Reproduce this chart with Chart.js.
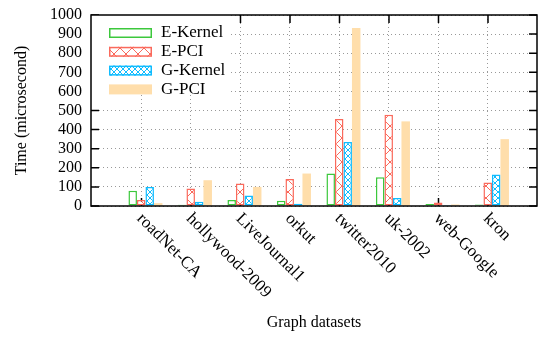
<!DOCTYPE html>
<html>
<head>
<meta charset="utf-8">
<script src="https://cdn.jsdelivr.net/npm/chart.js@4/dist/chart.umd.min.js"></script>
<style>
  html, body { margin: 0; padding: 0; background: #fff; }
</style>
</head>
<body>
<canvas id="myChart" width="547" height="339"></canvas>
<script>
var categories = ['roadNet-CA', 'hollywood-2009', 'LiveJournal1', 'orkut', 'twitter2010', 'uk-2002', 'web-Google', 'kron'];
var seriesNames = ['E-Kernel', 'E-PCI', 'G-Kernel', 'G-PCI'];
var eKernel = [80, 6, 32, 27, 170, 150, 10, 8];
var ePci = [32, 92, 118, 142, 455, 478, 18, 123];
var gKernel = [100, 22, 55, 12, 335, 42, 5, 165];
var gPci = [15, 135, 100, 170, 932, 443, 8, 350];
var yTicks = [0, 100, 200, 300, 400, 500, 600, 700, 800, 900, 1000];

var serif = '"Liberation Serif", "Times New Roman", serif';
var TICK_SHIFT = -0.08; // gnuplot puts the tic a bit left of the cluster centre

Chart.defaults.font.family = serif;
Chart.defaults.color = '#000';

// crosshatch fill, white behind so bars stay opaque
function hatch(color, size) {
    var c = document.createElement('canvas');
    c.width = size;
    c.height = size;
    var g = c.getContext('2d');
    g.fillStyle = '#fff';
    g.fillRect(0, 0, size, size);
    g.strokeStyle = color;
    g.lineWidth = 1;
    g.beginPath();
    g.moveTo(0, 0); g.lineTo(size, size);
    g.moveTo(size, 0); g.lineTo(0, size);
    g.stroke();
    return g.createPattern(c, 'repeat');
}

function toPoints(arr) {
    return arr.map(function (v, i) { return { x: i, y: v }; });
}

var green = '#3cc83c', red = '#fa6a5c', blue = '#10bcff', orange = '#ffdeab';

var data = {
    datasets: [
        { label: seriesNames[0], data: toPoints(eKernel), backgroundColor: '#fff', borderColor: green, borderWidth: 1.5 },
        { label: seriesNames[1], data: toPoints(ePci), backgroundColor: hatch(red, 12), borderColor: red, borderWidth: 1.5 },
        { label: seriesNames[2], data: toPoints(gKernel), backgroundColor: hatch(blue, 6), borderColor: blue, borderWidth: 1.5 },
        { label: seriesNames[3], data: toPoints(gPci), backgroundColor: orange, borderColor: orange, borderWidth: 0 }
    ]
};

// key with opaque box, inward tics (under the bars), rotated x labels and frame
var gnuplotLook = {
    id: 'gnuplotLook',
    beforeDatasetsDraw: function (chart) {
        var ctx = chart.ctx, a = chart.chartArea;
        var xs = chart.scales.x, ys = chart.scales.y;
        ctx.save();
        ctx.strokeStyle = '#000';
        ctx.lineWidth = 1.5;
        ctx.beginPath();
        yTicks.forEach(function (v) {
            var y = ys.getPixelForValue(v);
            ctx.moveTo(a.left, y); ctx.lineTo(a.left + 8, y);
            ctx.moveTo(a.right, y); ctx.lineTo(a.right - 8, y);
        });
        categories.forEach(function (c, i) {
            var x = xs.getPixelForValue(i + TICK_SHIFT);
            ctx.moveTo(x, a.bottom); ctx.lineTo(x, a.bottom - 8);
            ctx.moveTo(x, a.top); ctx.lineTo(x, a.top + 8);
        });
        ctx.stroke();

        ctx.fillStyle = '#fff';
        ctx.fillRect(a.left, a.top, 139, 79);
        ctx.font = '17px ' + serif;
        ctx.textBaseline = 'middle';
        chart.data.datasets.forEach(function (ds, i) {
            var x = a.left + 18, y = a.top + 13 + i * 18.8;
            ctx.fillStyle = ds.backgroundColor;
            ctx.fillRect(x, y, 43, 10);
            if (ds.borderWidth) {
                ctx.lineWidth = ds.borderWidth;
                ctx.strokeStyle = ds.borderColor;
                ctx.strokeRect(x + 0.75, y + 0.75, 41.5, 8.5);
            }
            ctx.fillStyle = '#000';
            ctx.fillText(ds.label, x + 52, y + 5);
        });
        ctx.restore();
    },
    afterDraw: function (chart) {
        var ctx = chart.ctx, a = chart.chartArea;
        var xs = chart.scales.x;
        ctx.save();
        ctx.strokeStyle = '#000';
        ctx.lineWidth = 1.5;
        ctx.strokeRect(a.left, a.top, a.right - a.left, a.bottom - a.top);

        ctx.fillStyle = '#000';
        ctx.font = '17px ' + serif;
        ctx.textAlign = 'left';
        ctx.textBaseline = 'middle';
        categories.forEach(function (c, i) {
            var x = xs.getPixelForValue(i + TICK_SHIFT);
            ctx.save();
            ctx.translate(x - 2, a.bottom + 10);
            ctx.rotate(Math.PI / 4);
            ctx.fillText(c, 0, 0);
            ctx.restore();
        });
        ctx.restore();
    }
};

var gridStyle = { color: '#999', lineWidth: 1, drawTicks: false, offset: false };
var borderStyle = { display: false, dash: [1, 3] };

new Chart(document.getElementById('myChart'), {
    type: 'bar',
    data: data,
    plugins: [gnuplotLook],
    options: {
        responsive: false,
        animation: false,
        layout: { padding: { left: 0, right: 10, top: 0, bottom: 0 } },
        plugins: { legend: { display: false }, tooltip: { enabled: false } },
        datasets: { bar: { categoryPercentage: 0.687, barPercentage: 1, borderSkipped: false } },
        scales: {
            x: {
                type: 'linear',
                offset: false,
                min: -1.1,
                max: 7.91,
                afterBuildTicks: function (scale) {
                    scale.ticks = categories.map(function (c, i) { return { value: i + TICK_SHIFT }; });
                },
                afterFit: function (scale) { scale.height = 133; },
                ticks: { display: false },
                grid: gridStyle,
                border: borderStyle,
                title: { display: true, text: 'Graph datasets', font: { size: 16, family: serif }, padding: { top: 0, bottom: 7 } }
            },
            y: {
                min: 0,
                max: 1000,
                afterBuildTicks: function (scale) {
                    scale.ticks = yTicks.map(function (v) { return { value: v }; });
                },
                afterFit: function (scale) { scale.width = 91; },
                ticks: {
                    font: { size: 16, lineHeight: 0.75, family: serif },
                    padding: 9,
                    callback: function (v) { return String(v); }
                },
                grid: gridStyle,
                border: borderStyle,
                title: { display: true, text: 'Time (microsecond)', font: { size: 16, family: serif }, padding: { top: 12, bottom: 0 } }
            }
        }
    }
});
</script>
</body>
</html>
